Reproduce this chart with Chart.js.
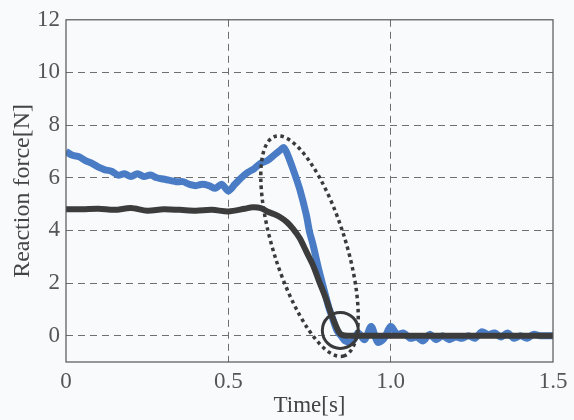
<!DOCTYPE html>
<html>
<head>
<meta charset="utf-8">
<script src="https://cdn.jsdelivr.net/npm/chart.js@4"></script>
<style>
  html, body { margin: 0; padding: 0; background: #f8fafc; }
  #wrap { width: 574px; height: 420px; }
</style>
</head>
<body>
<div id="wrap"><canvas id="forceChart" width="574" height="420"></canvas></div>
<script>
// measured reaction force (blue) and the reference force (dark)
const blueTime = [0, 0.02, 0.04, 0.06, 0.08, 0.10, 0.12, 0.14, 0.16, 0.18, 0.20, 0.22, 0.24, 0.26, 0.28,
  0.30, 0.32, 0.34, 0.36, 0.38, 0.40, 0.42, 0.44, 0.46, 0.48, 0.50, 0.52, 0.54, 0.56, 0.58, 0.60,
  0.62, 0.64, 0.66, 0.67, 0.68, 0.70, 0.72, 0.74, 0.75, 0.76, 0.78, 0.80, 0.81, 0.82, 0.835, 0.85,
  0.86, 0.88, 0.90, 0.92, 0.94, 0.96, 0.98, 1.00, 1.02, 1.04, 1.06, 1.08, 1.10, 1.12, 1.14, 1.16,
  1.18, 1.20, 1.22, 1.24, 1.26, 1.28, 1.30, 1.32, 1.34, 1.36, 1.38, 1.40, 1.42, 1.44, 1.46, 1.48, 1.50];
const blueForce = [7.0, 6.85, 6.8, 6.65, 6.55, 6.4, 6.3, 6.25, 6.1, 6.15, 6.05, 6.15, 6.05, 6.1, 6.0,
  5.95, 5.9, 5.85, 5.85, 5.75, 5.7, 5.75, 5.7, 5.6, 5.75, 5.5, 5.75, 6.0, 6.2, 6.35, 6.55,
  6.65, 6.85, 7.05, 7.15, 6.95, 6.3, 5.56, 4.6, 3.95, 3.5, 2.44, 1.5, 1.05, 0.7, 0.19, -0.05,
  -0.2, -0.25, 0.1, -0.15, 0.35, -0.25, -0.1, 0.35, 0.05, 0.1, -0.1, -0.05, -0.2, 0.05, -0.15, 0.0,
  -0.15, -0.05, -0.1, 0.0, -0.1, 0.15, 0.05, 0.1, -0.05, 0.1, -0.1, 0.0, -0.1, 0.05, 0.0, 0.0, 0.0];

const darkTime = [0, 0.05, 0.10, 0.15, 0.20, 0.25, 0.30, 0.35, 0.40, 0.45, 0.50, 0.55, 0.575, 0.60,
  0.62, 0.64, 0.66, 0.68, 0.70, 0.72, 0.74, 0.76, 0.78, 0.80, 0.82, 0.84, 0.85, 0.87, 0.95, 1.05,
  1.15, 1.25, 1.35, 1.45, 1.50];
const darkForce = [4.8, 4.8, 4.82, 4.78, 4.85, 4.75, 4.8, 4.78, 4.75, 4.78, 4.72, 4.82, 4.88, 4.85,
  4.72, 4.62, 4.5, 4.32, 4.05, 3.7, 3.2, 2.7, 2.05, 1.43, 0.72, 0.15, 0.03, 0.0, 0.0, 0.0,
  0.0, 0.0, 0.0, 0.0, 0.0];

const xTicks = [0, 0.5, 1.0, 1.5];
const xTickLabels = ['0', '0.5', '1.0', '1.5'];
const yTicks = [0, 2, 4, 6, 8, 10, 12];

const serif = "'Liberation Serif', 'DejaVu Serif', serif";

// frame plus the dotted ellipse and circle marking the release
const annotations = {
  id: 'annotations',
  afterDatasetsDraw(chart) {
    const { ctx, chartArea, scales } = chart;
    ctx.save();
    ctx.strokeStyle = '#555';
    ctx.lineWidth = 1.2;
    ctx.strokeRect(chartArea.left, chartArea.top, chartArea.right - chartArea.left, chartArea.bottom - chartArea.top);

    const ex = scales.x.getPixelForValue(0.75);
    const ey = scales.y.getPixelForValue(3.4);
    ctx.strokeStyle = '#3a3a3a';
    ctx.lineWidth = 3.5;
    ctx.setLineDash([3.5, 3.5]);
    ctx.beginPath();
    ctx.ellipse(ex, ey, 115, 36, 72.5 * Math.PI / 180, 0, Math.PI * 2);
    ctx.stroke();

    const cx = scales.x.getPixelForValue(0.845);
    const cy = scales.y.getPixelForValue(0.2);
    ctx.setLineDash([]);
    ctx.lineWidth = 3;
    ctx.beginPath();
    ctx.arc(cx, cy, 18, 0, Math.PI * 2);
    ctx.stroke();
    ctx.restore();
  }
};

const ctx = document.getElementById('forceChart').getContext('2d');

new Chart(ctx, {
  type: 'line',
  data: {
    datasets: [
      {
        label: 'Reference',
        data: darkTime.map((t, i) => ({ x: t, y: darkForce[i] })),
        borderColor: '#3c3c3c',
        borderWidth: 6,
        pointRadius: 0,
        tension: 0.3,
        fill: false,
      },
      {
        label: 'Measured',
        data: blueTime.map((t, i) => ({ x: t, y: blueForce[i] })),
        borderColor: '#4a7cc6',
        borderWidth: 7,
        pointRadius: 0,
        tension: 0.3,
        fill: false,
      },
    ],
  },
  options: {
    responsive: false,
    animation: false,
    layout: { padding: { top: 16, right: 21, left: 0, bottom: 0 } },
    plugins: { legend: { display: false }, tooltip: { enabled: false } },
    scales: {
      x: {
        type: 'linear',
        min: 0,
        max: 1.5,
        afterBuildTicks: axis => { axis.ticks = xTicks.map(v => ({ value: v })); },
        afterFit: axis => { axis.height = 58; },
        ticks: {
          color: '#555',
          font: { family: serif, size: 23 },
          padding: 6,
          maxRotation: 0,
          callback: (v) => xTickLabels[xTicks.indexOf(v)],
        },
        grid: {
          color: (c) => (c.tick && (c.tick.value === 0 || c.tick.value === 1.5)) ? 'rgba(0,0,0,0)' : '#6f6f6f',
          lineWidth: 1,
          drawTicks: false,
        },
        border: { display: false, dash: [7, 5] },
        title: {
          display: true,
          text: 'Time[s]',
          color: '#444',
          font: { family: serif, size: 23 },
          padding: { top: -4, bottom: 0 },
        },
      },
      y: {
        min: -1,
        max: 12,
        afterBuildTicks: axis => { axis.ticks = yTicks.map(v => ({ value: v })); },
        afterFit: axis => { axis.width = 66; },
        ticks: {
          color: '#555',
          font: { family: serif, size: 23 },
          padding: 6,
        },
        grid: {
          color: (c) => (c.tick && c.tick.value === 12) ? 'rgba(0,0,0,0)' : '#6f6f6f',
          lineWidth: 1,
          drawTicks: false,
        },
        border: { display: false, dash: [7, 5] },
        title: {
          display: true,
          text: 'Reaction force[N]',
          color: '#444',
          font: { family: serif, size: 24 },
          padding: { top: 8, bottom: 0 },
        },
      },
    },
  },
  plugins: [annotations],
});
</script>
</body>
</html>
